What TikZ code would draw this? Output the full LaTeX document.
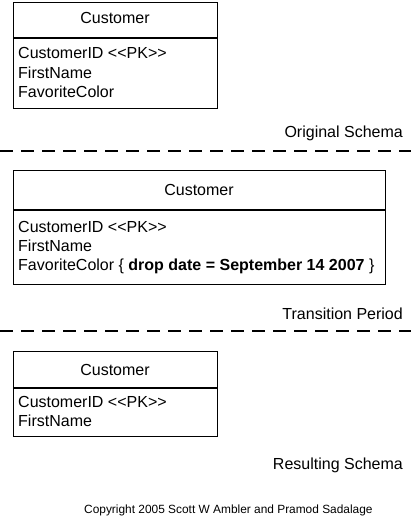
\documentclass[tikz,border=0pt]{standalone}
\usepackage{fontspec}
\setmainfont{Liberation Sans}
\begin{document}
\begin{tikzpicture}[x=1pt,y=-1pt,
  box/.style={draw,line width=1.2pt,anchor=north west,inner sep=0pt},
  sep/.style={line width=1.1pt},
  divider/.style={line width=1.5pt,dash pattern=on 13pt off 8pt},
  txt/.style={font=\fontsize{16}{19}\selectfont,inner sep=0pt},
  attr/.style={txt,anchor=base west},
  title/.style={txt,anchor=base},
  lbl/.style={txt,anchor=base east},
  copy/.style={font=\fontsize{11.9}{14}\selectfont,inner sep=0pt,anchor=base west}]
\useasboundingbox (0,0) rectangle (411,519);
% Box 1
\node[box,minimum width=204pt,minimum height=106pt] (b1) at (13,2) {};
\coordinate (s1w) at (13,38); \coordinate (s1e) at (217,38);
\draw[sep] (s1w) -- (s1e);
\node[title] (t1) at (115,24) {Customer};
\node[attr] (a11) at (18,59) {CustomerID <{}<PK>{}>};
\node[attr] (a12) at (18,78) {FirstName};
\node[attr] (a13) at (18,97) {FavoriteColor};
\node[lbl] (l1) at (403,137) {Original Schema};
\coordinate (d1w) at (0,151); \coordinate (d1e) at (411,151);
\draw[divider] (d1w) -- (d1e);
% Box 2
\node[box,minimum width=372pt,minimum height=114pt] (b2) at (13,170) {};
\coordinate (s2w) at (13,210); \coordinate (s2e) at (385,210);
\draw[sep] (s2w) -- (s2e);
\node[title] (t2) at (199,195) {Customer};
\node[attr] (a21) at (18,232) {CustomerID <{}<PK>{}>};
\node[attr] (a22) at (18,251) {FirstName};
\node[attr] (a23) at (18,270) {FavoriteColor \{ \textbf{drop date = September 14 2007} \}};
\node[lbl] (l2) at (403,319) {Transition Period};
\coordinate (d2w) at (0,331); \coordinate (d2e) at (411,331);
\draw[divider] (d2w) -- (d2e);
% Box 3
\node[box,minimum width=204pt,minimum height=85pt] (b3) at (13,351) {};
\coordinate (s3w) at (13,388); \coordinate (s3e) at (217,388);
\draw[sep] (s3w) -- (s3e);
\node[title] (t3) at (115,375) {Customer};
\node[attr] (a31) at (18,407) {CustomerID <{}<PK>{}>};
\node[attr] (a32) at (18,426) {FirstName};
\node[lbl] (l3) at (403,469) {Resulting Schema};
\node[copy] (cp) at (84,513) {Copyright 2005 Scott W Ambler and Pramod Sadalage};
\end{tikzpicture}
\end{document}
